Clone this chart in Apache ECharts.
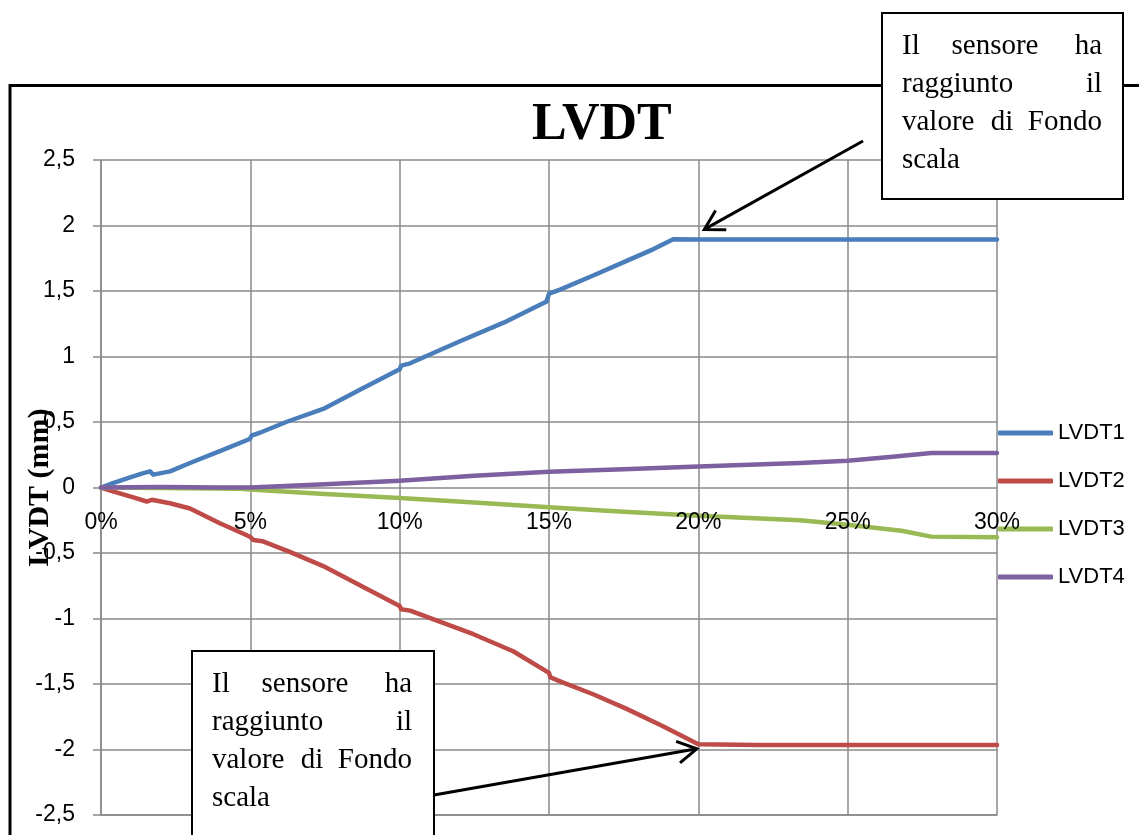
<!DOCTYPE html>
<html><head><meta charset="utf-8">
<script src="https://cdn.jsdelivr.net/npm/echarts@6/dist/echarts.min.js"></script>
<style>html,body{margin:0;padding:0;background:#fff}#c{width:1139px;height:835px}</style>
</head><body><div id="c"></div>
<script>
// ---- data (x in %, y in mm) ----
const seriesNames = ['LVDT1', 'LVDT2', 'LVDT3', 'LVDT4'];
const lvdt1X = [0, 0.4, 1.0, 1.42, 1.64, 1.75, 2.31, 2.98, 3.98, 4.98, 5.05, 5.3, 6.2, 7.44, 8.7, 10.0, 10.05, 10.35, 12.0, 13.5, 14.92, 15.0, 15.37, 16.5, 17.6, 18.5, 19.16, 20, 22, 24, 26, 28, 30];
const lvdt1Y = [0, 0.034, 0.08, 0.11, 0.123, 0.098, 0.123, 0.187, 0.277, 0.37, 0.398, 0.416, 0.50, 0.60, 0.75, 0.902, 0.93, 0.948, 1.115, 1.26, 1.42, 1.48, 1.51, 1.62, 1.73, 1.82, 1.895, 1.893, 1.893, 1.893, 1.893, 1.893, 1.893];
const lvdt2X = [0, 0.4, 1.0, 1.53, 1.7, 2.31, 2.98, 3.98, 4.88, 5.0, 5.1, 5.4, 6.3, 7.44, 8.7, 10.0, 10.05, 10.35, 12.47, 13.8, 15.0, 15.05, 15.37, 16.5, 17.6, 18.8, 20.0, 22, 24, 26, 28, 30];
const lvdt2Y = [0, -0.03, -0.07, -0.107, -0.094, -0.12, -0.16, -0.273, -0.365, -0.378, -0.40, -0.41, -0.49, -0.60, -0.75, -0.905, -0.93, -0.94, -1.12, -1.25, -1.415, -1.45, -1.48, -1.58, -1.69, -1.82, -1.96, -1.965, -1.965, -1.965, -1.965, -1.965];
const lvdt3X = [0, 2, 4.65, 5, 7.5, 10, 12.5, 15, 17.5, 20, 23.4, 25, 26.8, 27.8, 30];
const lvdt3Y = [0, -0.003, -0.01, -0.015, -0.05, -0.08, -0.115, -0.15, -0.185, -0.216, -0.25, -0.285, -0.33, -0.375, -0.38];
const lvdt4X = [0, 2, 4, 5, 7.5, 10, 12.5, 15, 17.5, 20, 23.4, 25, 26.5, 27.8, 30];
const lvdt4Y = [0, 0.003, 0, 0, 0.025, 0.052, 0.09, 0.12, 0.14, 0.16, 0.187, 0.205, 0.235, 0.264, 0.264];
const colors = ['#4A7EBB', '#BE4B48', '#98B954', '#7D60A0'];
const noteLines = [['Il', 'sensore', 'ha'], ['raggiunto', 'il'], ['valore', 'di', 'Fondo'], ['scala']];
const titleText = 'LVDT';
const yAxisTitle = 'LVDT (mm)';

const pairs = (xs, ys) => xs.map((x, i) => [x, ys[i]]);
const allData = [pairs(lvdt1X, lvdt1Y), pairs(lvdt2X, lvdt2Y), pairs(lvdt3X, lvdt3Y), pairs(lvdt4X, lvdt4Y)];

const chart = echarts.init(document.getElementById('c'));
const gridCol = '#8a8a8a';
const sans = 'Liberation Sans';
const serif = 'Liberation Serif';
const gridTop = 160, gridBottom = 20, H = 835;

function noteBox(left, top, w, h) {
  const els = [{
    type: 'rect', z: 100,
    shape: { x: left, y: top, width: w, height: h },
    style: { fill: '#fff', stroke: '#000', lineWidth: 2 }
  }];
  const tl = left + 20, tr = left + 220;
  const base0 = top + 38, lh = 38;
  noteLines.forEach((words, li) => {
    const y = base0 + li * lh - 5;
    words.forEach((w, wi) => {
      let x, align;
      if (wi === 0) { x = tl; align = 'left'; }
      else if (wi === words.length - 1) { x = tr; align = 'right'; }
      else { x = tl + (li === 0 ? 93 : 100); align = 'center'; }
      els.push({
        type: 'text', z: 101,
        style: { text: w, x: x, y: y, textAlign: align, textVerticalAlign: 'middle',
          font: '29px "' + serif + '"', fill: '#000' }
      });
    });
  });
  return els;
}

// x-axis labels sit just under the zero line (axis crosses at y = 0)
const plotH = H - gridTop - gridBottom;
const zeroFromBottom = plotH / 2; // y range is symmetric (-2.5 .. 2.5)
const xLabelMargin = 24 - zeroFromBottom;

const xBase = { type: 'value', min: 0, max: 30, interval: 5 };

const option = {
  backgroundColor: '#fff',
  animation: false,
  title: {
    text: titleText, left: 532, top: 100, padding: 0,
    textStyle: { fontFamily: serif, fontWeight: 'bold', fontSize: 52, color: '#000' }
  },
  grid: { left: 101, right: 142, top: gridTop, bottom: gridBottom, containLabel: false, outerBoundsMode: 'none' },
  legend: {
    orient: 'vertical', left: 998, top: 422, padding: 0,
    icon: 'roundRect', itemWidth: 55, itemHeight: 5, itemGap: 26,
    data: seriesNames,
    textStyle: { fontFamily: sans, fontSize: 22, color: '#000' }
  },
  xAxis: [
    Object.assign({}, xBase, {
      axisLine: { show: true, onZero: false, lineStyle: { color: gridCol, width: 1.5 } },
      axisTick: { show: false },
      axisLabel: { show: false },
      splitLine: { show: true, lineStyle: { color: gridCol, width: 1.5 } }
    }),
    Object.assign({}, xBase, {
      position: 'bottom', z: 10,
      axisLine: { show: false, onZero: false },
      axisTick: { show: false },
      splitLine: { show: false },
      axisLabel: { formatter: '{value}%', fontFamily: sans, fontSize: 23, color: '#000', margin: xLabelMargin, showMaxLabel: true, showMinLabel: true, hideOverlap: false }
    })
  ],
  yAxis: {
    type: 'value', min: -2.5, max: 2.5, interval: 0.5,
    name: yAxisTitle, nameLocation: 'middle', nameGap: 46, nameRotate: 90, nameMoveOverlap: false,
    nameTextStyle: { fontFamily: serif, fontWeight: 'bold', fontSize: 30, color: '#000' },
    axisLine: { show: true, onZero: false, lineStyle: { color: gridCol, width: 1.5 } },
    axisTick: { show: true, length: 8, lineStyle: { color: gridCol, width: 1.5 } },
    axisLabel: {
      formatter: v => String(Math.round(v * 10) / 10).replace('.', ','),
      fontFamily: sans, fontSize: 23, color: '#000', margin: 26
    },
    splitLine: { show: true, lineStyle: { color: gridCol, width: 1.5 } }
  },
  series: allData.map((d, i) => ({
    name: seriesNames[i], type: 'line', data: d, xAxisIndex: 0,
    symbol: 'none', showSymbol: false, smooth: false,
    lineStyle: { color: colors[i], width: 4.5, cap: 'round', join: 'round' },
    itemStyle: { color: colors[i] }
  })),
  graphic: { elements: [] }
};
chart.setOption(option);

// annotation arrows: tips anchored in data space
function arrow(startPx, tipData) {
  const tip = chart.convertToPixel({ gridIndex: 0 }, tipData);
  const dx = startPx[0] - tip[0], dy = startPx[1] - tip[1];
  const L = Math.hypot(dx, dy), ux = dx / L, uy = dy / L;
  const a = Math.PI / 6, len = 22;
  const r1 = [tip[0] + len * (ux * Math.cos(a) - uy * Math.sin(a)), tip[1] + len * (ux * Math.sin(a) + uy * Math.cos(a))];
  const r2 = [tip[0] + len * (ux * Math.cos(-a) - uy * Math.sin(-a)), tip[1] + len * (ux * Math.sin(-a) + uy * Math.cos(-a))];
  return [
    { type: 'line', z: 90, shape: { x1: startPx[0], y1: startPx[1], x2: tip[0], y2: tip[1] }, style: { stroke: '#000', lineWidth: 3 } },
    { type: 'polyline', z: 90, shape: { points: [r1, tip, r2] }, style: { stroke: '#000', lineWidth: 3, fill: null } }
  ];
}

const elements = [
  { type: 'polyline', z: 50, shape: { points: [[10, 835], [10, 85.5], [1139, 85.5]] }, style: { stroke: '#000', lineWidth: 3, fill: null } },
  ...noteBox(882, 13, 241, 186),
  ...noteBox(192, 651, 242, 200),
  ...arrow([863, 141], [20.2, 1.97]),
  ...arrow([434, 795], [19.95, -1.995])
];
chart.setOption({ graphic: { elements: elements } });
</script>
</body></html>
